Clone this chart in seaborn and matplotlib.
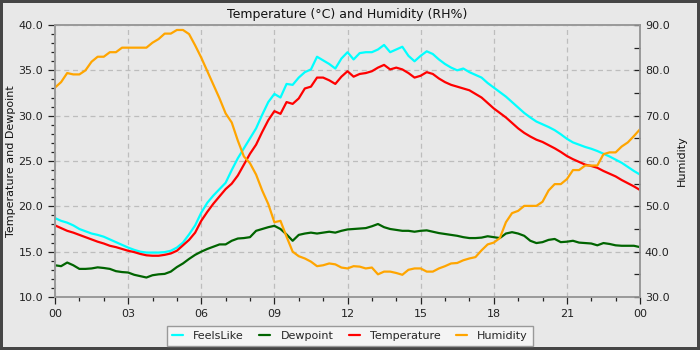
import numpy as np
import pandas as pd
import matplotlib
matplotlib.use("Agg")
import matplotlib.pyplot as plt
from matplotlib.ticker import MultipleLocator, FormatStrFormatter
import seaborn as sns

# readings every 15 minutes, hours since midnight
hours = [i * 0.25 for i in range(97)]

temperature = [
    17.9, 17.6, 17.3, 17.1, 16.85, 16.6, 16.35, 16.1, 15.9, 15.65, 15.5, 15.3,
    15.1, 14.95, 14.75, 14.6, 14.55, 14.55, 14.65, 14.8, 15.1, 15.7, 16.3, 17.1,
    18.4, 19.4, 20.3, 21.1, 21.9, 22.5, 23.4, 24.6, 25.8, 26.8, 28.2, 29.5,
    30.5, 30.2, 31.5, 31.3, 31.9, 33.0, 33.2, 34.2, 34.2, 33.9, 33.5, 34.3,
    34.9, 34.3, 34.6, 34.7, 34.9, 35.3, 35.6, 35.1, 35.3, 35.1, 34.7, 34.2,
    34.4, 34.8, 34.6, 34.1, 33.7, 33.4, 33.2, 33.0, 32.8, 32.4, 32.0, 31.4,
    30.8, 30.3, 29.8, 29.2, 28.6, 28.1, 27.7, 27.35, 27.1, 26.75, 26.4, 26.0,
    25.55, 25.2, 24.9, 24.6, 24.45, 24.25, 23.9, 23.6, 23.3, 22.9, 22.55, 22.2,
    21.8,
]

feels_like = [
    18.7, 18.4, 18.2, 17.9, 17.5, 17.25, 17.0, 16.85, 16.65, 16.35, 16.05, 15.75,
    15.45, 15.2, 15.0, 14.9, 14.9, 14.9, 14.95, 15.1, 15.45, 16.0, 16.9, 17.9,
    19.3, 20.4, 21.2, 21.9, 22.6, 24.0, 25.3, 26.4, 27.5, 28.6, 30.1, 31.5,
    32.4, 32.0, 33.5, 33.4, 34.2, 34.8, 35.1, 36.5, 36.1, 35.7, 35.2, 36.3,
    37.0, 36.2, 36.9, 37.0, 37.0, 37.3, 37.8, 37.0, 37.3, 37.6, 36.6, 36.0,
    36.6, 37.1, 36.8, 36.2, 35.7, 35.3, 35.0, 35.2, 34.8, 34.5, 34.2, 33.6,
    33.1, 32.6, 32.1, 31.5, 30.9, 30.3, 29.8, 29.35, 29.05, 28.75, 28.4, 27.95,
    27.45, 27.05, 26.8, 26.55, 26.35, 26.1, 25.8, 25.5, 25.15, 24.8, 24.35, 23.9,
    23.5,
]

dewpoint = [
    13.5, 13.4, 13.8, 13.5, 13.1, 13.1, 13.15, 13.27, 13.2, 13.1, 12.85, 12.75,
    12.7, 12.45, 12.3, 12.15, 12.4, 12.5, 12.55, 12.8, 13.3, 13.7, 14.2, 14.65,
    15.0, 15.3, 15.55, 15.8, 15.8, 16.2, 16.45, 16.5, 16.6, 17.3, 17.5, 17.7,
    17.85, 17.5, 16.9, 16.2, 16.85, 17.0, 17.1, 17.0, 17.1, 17.2, 17.1, 17.3,
    17.45, 17.5, 17.55, 17.6, 17.8, 18.05, 17.7, 17.5, 17.4, 17.3, 17.3, 17.2,
    17.3, 17.35, 17.2, 17.05, 16.95, 16.85, 16.75, 16.6, 16.5, 16.5, 16.55, 16.7,
    16.6, 16.5, 17.0, 17.15, 17.0, 16.75, 16.2, 15.95, 16.05, 16.3, 16.4, 16.05,
    16.1, 16.2, 16.0, 15.95, 15.9, 15.7, 15.95, 15.85, 15.7, 15.65, 15.65, 15.65,
    15.5,
]

humidity = [
    76.2, 77.4, 79.4, 79.1, 79.1, 80.0, 81.9, 83.0, 83.0, 84.0, 84.0, 85.0,
    85.0, 85.0, 85.0, 85.0, 86.1, 86.9, 88.1, 88.1, 88.9, 88.9, 88.0, 85.5,
    82.8, 79.8, 76.8, 73.8, 70.5, 68.5, 64.5, 61.0, 59.5, 57.0, 53.5, 50.5,
    46.5, 46.8, 43.3, 40.0, 39.0, 38.5, 37.8, 36.8, 37.0, 37.4, 37.2, 36.5,
    36.3, 36.8, 36.7, 36.3, 36.5, 35.0, 35.6, 35.6, 35.3, 34.9, 36.0, 36.3,
    36.3, 35.6, 35.6, 36.3, 36.8, 37.4, 37.5, 38.1, 38.5, 38.8, 40.3, 41.6,
    42.0, 43.0, 46.5, 48.5, 49.0, 50.1, 50.1, 50.1, 51.0, 53.5, 54.9, 54.9,
    56.0, 58.0, 58.0, 59.0, 59.0, 59.0, 61.5, 61.9, 61.9, 63.2, 64.1, 65.5,
    67.0,
]

tick_hours = [0, 3, 6, 9, 12, 15, 18, 21, 24]
tick_labels = ["00", "03", "06", "09", "12", "15", "18", "21", "00"]

df = pd.DataFrame({"hour": hours, "FeelsLike": feels_like, "Dewpoint": dewpoint,
                   "Temperature": temperature, "Humidity": humidity})

bg = "#e8e8e8"
sns.set_theme(style="whitegrid")
plt.rcParams["font.family"] = ["DejaVu Sans"]

fig = plt.figure(figsize=(7, 3.5), dpi=100, facecolor=bg,
                 edgecolor="#454545", linewidth=4)
ax = fig.add_axes([55 / 700, 1 - 297 / 350, 585 / 700, 272 / 350])
ax.set_facecolor(bg)

lw = 1.6
sns.lineplot(data=df, x="hour", y="FeelsLike", color="#00ffff", lw=lw, ax=ax, label="FeelsLike")
sns.lineplot(data=df, x="hour", y="Dewpoint", color="#006400", lw=lw, ax=ax, label="Dewpoint")
sns.lineplot(data=df, x="hour", y="Temperature", color="#ff0000", lw=lw, ax=ax, label="Temperature")

ax2 = ax.twinx()
sns.lineplot(data=df, x="hour", y="Humidity", color="#ffa500", lw=lw, ax=ax2, label="Humidity")

ax.set_xlim(0, 24)
ax.set_ylim(10, 40)
ax2.set_ylim(30, 90)

ax.set_xticks(tick_hours)
ax.set_xticklabels(tick_labels)
ax.xaxis.set_minor_locator(MultipleLocator(1))
ax.yaxis.set_major_locator(MultipleLocator(5))
ax.yaxis.set_minor_locator(MultipleLocator(1))
ax.yaxis.set_major_formatter(FormatStrFormatter("%.1f"))
ax2.yaxis.set_major_locator(MultipleLocator(10))
ax2.yaxis.set_minor_locator(MultipleLocator(5))
ax2.yaxis.set_major_formatter(FormatStrFormatter("%.1f"))

ax.grid(True, which="major", color="#bdbdbd", linestyle=(0, (4, 3)), linewidth=0.9)
ax2.grid(False)

ax.tick_params(axis="both", which="both", labelsize=8, colors="#222222",
               direction="out", left=True, bottom=True)
ax.tick_params(which="major", length=5, width=0.9, color="#222222")
ax.tick_params(which="minor", length=3, width=0.9, color="#222222")
ax2.tick_params(axis="y", which="both", labelsize=8, direction="in",
                right=True, length=4, width=0.9, colors="#222222")

for a in (ax, ax2):
    for s in a.spines.values():
        s.set_color("#999999")
        s.set_linewidth(1.2)

ax.set_xlabel("")
ax.set_ylabel("Temperature and Dewpoint", fontsize=8, color="#111111")
ax2.set_ylabel("Humidity", fontsize=8, color="#111111")
ax.yaxis.set_label_coords(-0.066, 0.5)
ax2.yaxis.set_label_coords(1.063, 0.5)
ax.set_title("Temperature (°C) and Humidity (RH%)", fontsize=9, color="#111111", pad=5)

h1, l1 = ax.get_legend_handles_labels()
h2, l2 = ax2.get_legend_handles_labels()
ax.get_legend().remove()
ax2.get_legend().remove()
leg = fig.legend(h1 + h2, l1 + l2, loc="lower center", bbox_to_anchor=(0.5, -0.005),
                 ncol=4, fontsize=8, frameon=True, fancybox=False,
                 handlelength=1.0, handletextpad=0.9, columnspacing=1.4,
                 borderpad=0.45)
leg.get_frame().set_facecolor("#f4f4f4")
leg.get_frame().set_edgecolor("#999999")
leg.get_frame().set_alpha(1)

fig.savefig("out.png", dpi=100, facecolor=bg)
